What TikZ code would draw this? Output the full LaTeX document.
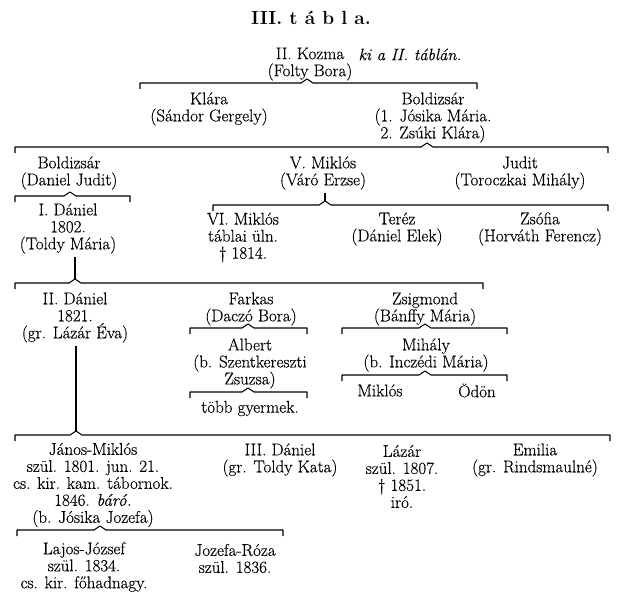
\documentclass[tikz,border=0pt]{standalone}
\usepackage{fontspec}
\newfontfamily\oldfont[FakeBold=0.35]{Latin Modern Roman}
\usetikzlibrary{calc}
\newcommand\famline[3]{%
  \draw[fam] ($(#1)+(0,6)$) -- (#1) -- ($(#2)+(-6,0)$) -- ($(#2)+(0,-4)$) -- ($(#2)+(6,0)$) -- (#3) -- ($(#3)+(0,6)$);}
\begin{document}
\begin{tikzpicture}[x=1pt,y=-1pt,
  person/.style={align=center, inner sep=0pt, yshift=-3.5pt, font=\oldfont\fontsize{17}{17}\selectfont},
  fam/.style={line width=1.1pt, line join=round}]
\useasboundingbox (0,0) rectangle (622,602);
\fill[white] (0,0) rectangle (622,602);

% title
\node[inner sep=0pt, font=\fontsize{19}{22}\selectfont\bfseries] (title) at (311,18) {III. t á b l a.};

% generation 1
\node[person] (kozma) at (310,60.5) {II. Kozma\\(Folty Bora)};
\node[person, font=\oldfont\fontsize{16.5}{17}\selectfont\itshape] (note) at (410,51) {ki a II. táblán.};

\coordinate (l1) at (140,83); \coordinate (c1) at (307,83); \coordinate (r1) at (477,83);
\famline{l1}{c1}{r1}

% generation 2
\node[person] (klara) at (209,105.5) {Klára\\(Sándor Gergely)};
\node[person] (boldA) at (433,114) {Boldizsár\\(1. Jósika Mária.\\2. Zsúki Klára)};

\coordinate (l2) at (15,147); \coordinate (c2) at (427,147); \coordinate (r2) at (608,147);
\famline{l2}{c2}{r2}

% generation 3
\node[person] (boldB) at (69,169.5) {Boldizsár\\(Daniel Judit)};
\node[person] (miklos5) at (323,169.5) {V. Miklós\\(Váró Erzse)};
\node[person] (judit) at (520,169.5) {Judit\\(Toroczkai Mihály)};

\coordinate (l3) at (15,196); \coordinate (c3) at (70,196); \coordinate (r3) at (130,196);
\famline{l3}{c3}{r3}
\coordinate (l4) at (213,205); \coordinate (c4) at (325,205); \coordinate (r4) at (608,205);
\draw[fam] ($(c4 |- miklos5.south)+(0,3)$) -- ($(c4)+(0,-4)$);
\famline{l4}{c4}{r4}

% generation 4
\node[person] (dan1) at (68,225) {I. Dániel\\1802.\\(Toldy Mária)};
\node[person] (miklos6) at (243,234) {VI. Miklós\\táblai üln.\\\dag{} 1814.};
\node[person] (terez) at (397,225.5) {Teréz\\(Dániel Elek)};
\node[person] (zsofia) at (540,225.5) {Zsófia\\(Horváth Ferencz)};

\coordinate (l5) at (15,283); \coordinate (c5) at (75,283); \coordinate (r5) at (483,283);
\draw[fam] ($(c5 |- dan1.south)+(0,3)$) -- ($(c5)+(0,-4)$);
\famline{l5}{c5}{r5}

% generation 5
\node[person] (dan2) at (75,314) {II. Dániel\\1821.\\(gr. Lázár Éva)};
\node[person] (farkas) at (251,305.5) {Farkas\\(Daczó Bora)};
\node[person] (zsig) at (425,305.5) {Zsigmond\\(Bánffy Mária)};

\coordinate (l6) at (190,328); \coordinate (c6) at (248,328); \coordinate (r6) at (307,328);
\famline{l6}{c6}{r6}
\node[person] (albert) at (250,360) {Albert\\(b. Szentkereszti\\Zsuzsa)};
\coordinate (l7) at (190,392); \coordinate (c7) at (248,392); \coordinate (r7) at (307,392);
\famline{l7}{c7}{r7}
\node[person] (tobb) at (250,405) {több gyermek.};

\coordinate (l8) at (342,328); \coordinate (c8) at (425,328); \coordinate (r8) at (507,328);
\famline{l8}{c8}{r8}
\node[person] (mihaly) at (426,351.5) {Mihály\\(b. Inczédi Mária)};
\coordinate (l9) at (342,375); \coordinate (c9) at (425,375); \coordinate (r9) at (507,375);
\famline{l9}{c9}{r9}
\node[person] (miklos7) at (380,387) {Miklós};
\node[person] (odon) at (477,387) {Ödön};

\coordinate (l10) at (15,435); \coordinate (c10) at (76,435); \coordinate (r10) at (610,435);
\draw[fam] ($(c10 |- dan2.south)+(0,3)$) -- ($(c10)+(0,-4)$);
\famline{l10}{c10}{r10}

% generation 6
\node[person] (janos) at (93,481.5) {János-Miklós\\szül. 1801. jun. 21.\\cs. kir. kam. tábornok.\\1846. \textit{báró.}\\(b. Jósika Jozefa)};
\node[person] (dan3) at (280,456.5) {III. Dániel\\(gr. Toldy Kata)};
\node[person] (lazar) at (402,473) {Lázár\\szül. 1807.\\\dag{} 1851.\\iró.};
\node[person] (emilia) at (535,456.5) {Emilia\\(gr. Rindsmaulné)};

\coordinate (l11) at (17,530); \coordinate (c11) at (100,530); \coordinate (r11) at (283,530);
\famline{l11}{c11}{r11}

% generation 7
\node[person] (lajos) at (84,563.5) {Lajos-József\\szül. 1834.\\cs. kir. főhadnagy.};
\node[person] (jozefa) at (235,555) {Jozefa-Róza\\szül. 1836.};
\end{tikzpicture}
\end{document}
